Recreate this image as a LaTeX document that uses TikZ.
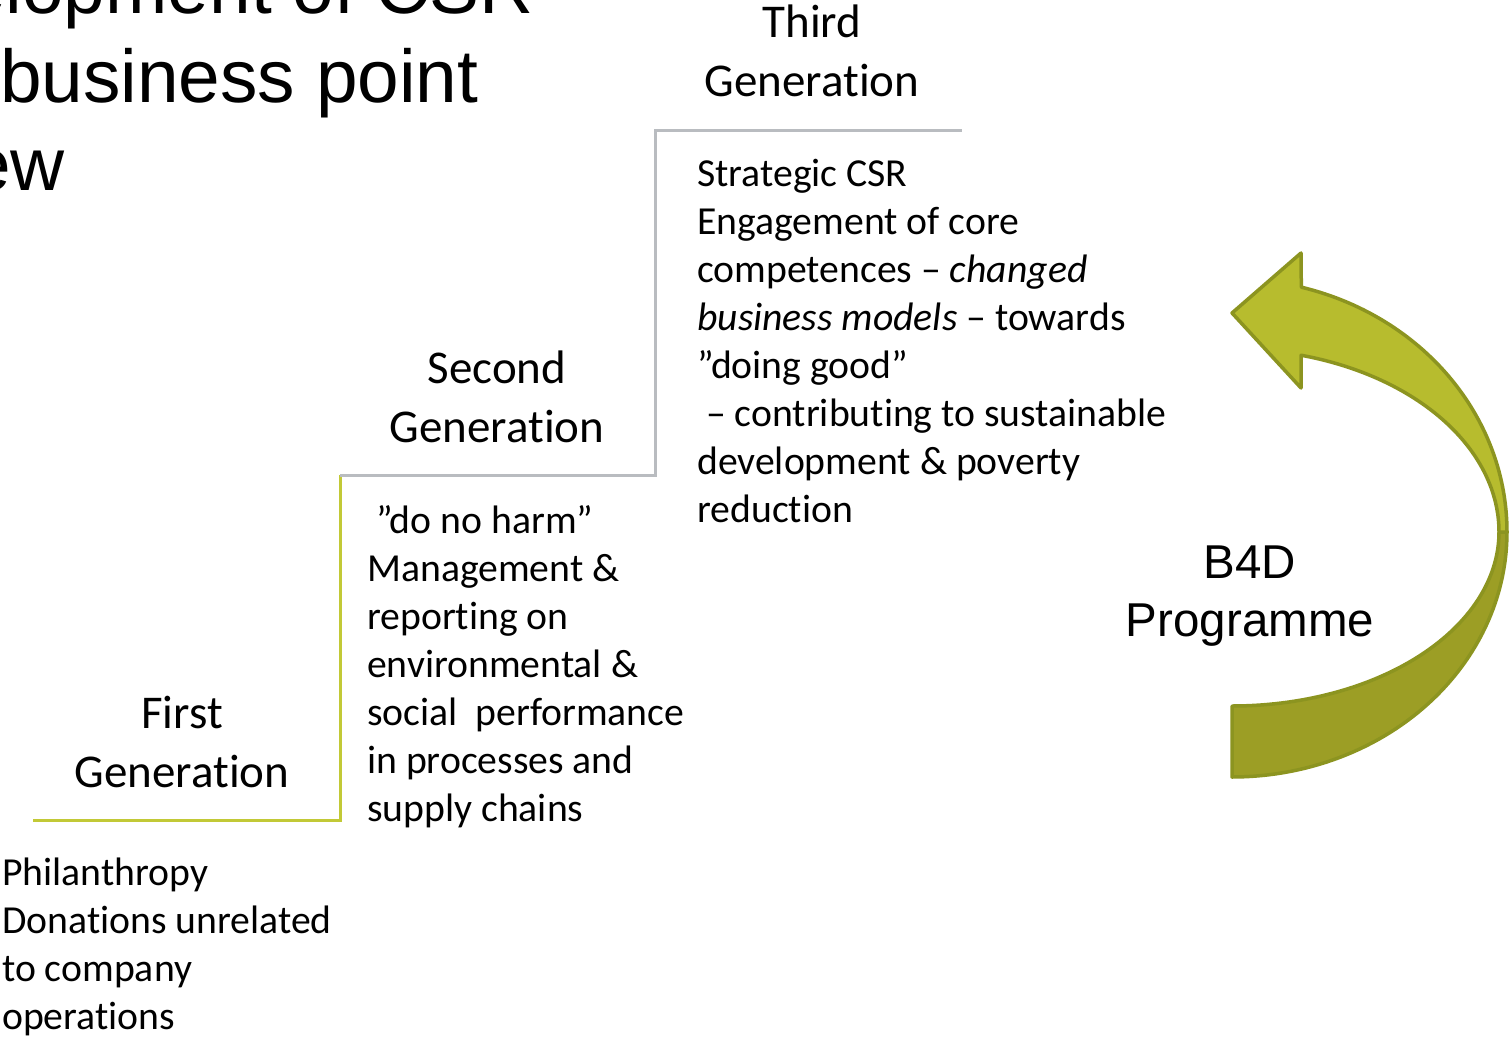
\documentclass[tikz,border=0pt]{standalone}
\usepackage{fontspec}
\setmainfont{Carlito}[Ligatures={NoCommon}]
\newfontfamily\arialf{Liberation Sans}
\definecolor{stepgreen}{HTML}{C2C936}
\definecolor{stepgray}{HTML}{B9BCC0}
\definecolor{arrowlight}{HTML}{B7BC2E}
\definecolor{arrowdark}{HTML}{9C9E25}
\definecolor{arrowedge}{HTML}{8C9420}
\begin{document}
\begin{tikzpicture}[x=1pt,y=-1pt,
  titletext/.style={inner sep=0pt, font=\arialf\fontsize{74.8}{85}\selectfont},
  genlabel/.style={inner sep=0pt, align=center, anchor=base, font=\fontsize{47}{59}\selectfont},
  bodytext/.style={inner sep=0pt, align=left, anchor=base west, font=\fontsize{39.7}{48}\selectfont},
  progtext/.style={inner sep=0pt, align=center, anchor=base, font=\arialf\fontsize{47.5}{58}\selectfont},
  stepline/.style={line width=3pt},
  arrowpart/.style={draw=arrowedge, line width=3.5pt, line join=round}]
\useasboundingbox (0,0) rectangle (1512,1037);
\clip (0,0) rectangle (1512,1037);
% title (cut off by the frame)
\node[titletext, anchor=base east] (t1) at (534,13) {Development of CSR};
\node[titletext, anchor=base west] (t2) at (0,102) {business point};
\node[titletext, anchor=base east] (t3) at (65,190) {view};
% staircase
\coordinate (s0) at (33,820);
\coordinate (s1) at (340,820);
\coordinate (s2) at (340,475);
\coordinate (s3) at (655,475);
\coordinate (s4) at (655,130);
\coordinate (s5) at (962,130);
\draw[stepline, stepgreen] (s0) -- (s1) -- (s2);
\draw[stepline, stepgray] (s2) -- (s3) -- (s4) -- (s5);
% generation labels (anchored at the baseline of the last line)
\node[genlabel] (g1) at (182,787) {First\\Generation};
\node[genlabel] (g2) at (497,442) {Second\\Generation};
\node[genlabel] (g3) at (812,96) {Third\\Generation};
% descriptions
\node[bodytext] (d1) at (2,1029) {Philanthropy\\Donations unrelated\\to company\\operations};
\node[bodytext] (d2) at (367,821) {\ ”do no harm”\\Management \&\\reporting on\\environmental \&\\social\ \ performance\\in processes and\\supply chains};
\node[bodytext] (d3) at (697,522) {Strategic CSR\\Engagement of core\\competences – \textit{changed}\\\textit{business models} – towards\\”doing good”\\\ – contributing to sustainable\\development \& poverty\\reduction};
% curved arrow
\fill[arrowpart, fill=arrowdark]
  plot[domain=0:-90, samples=60] ({1232+275*cos(\x)},{532-245*sin(\x)})
  -- plot[domain=-90:0, samples=60] ({1232+267*cos(\x)},{532-174*sin(\x)})
  -- cycle;
\fill[arrowpart, fill=arrowlight]
  plot[domain=75.4:0, samples=60] ({1232+275*cos(\x)},{532-253*sin(\x)})
  -- plot[domain=0:75.0, samples=60] ({1232+267*cos(\x)},{532-183*sin(\x)})
  -- (1301,388) -- (1232,313) -- (1301,253) -- cycle;
\node[progtext] (b4d) at (1250,636) {B4D\\Programme};
\end{tikzpicture}
\end{document}
